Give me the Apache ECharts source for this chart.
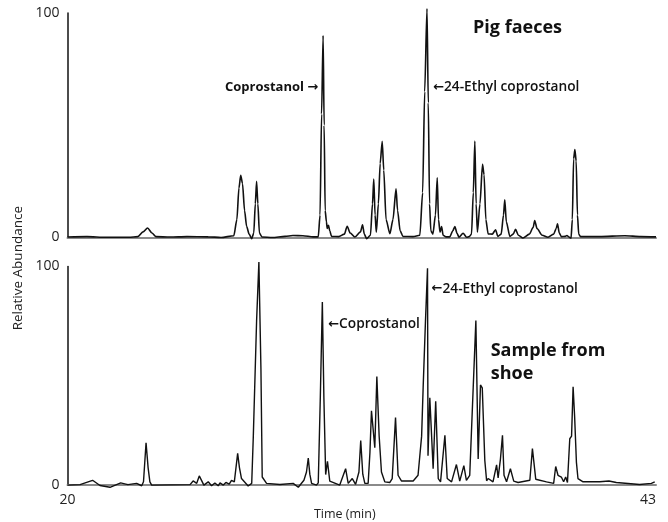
<!DOCTYPE html>
<html>
<head>
<meta charset="utf-8">
<title>Sterol chromatograms</title>
<script src="https://cdn.jsdelivr.net/npm/echarts@6/dist/echarts.min.js"></script>
<style>
  html, body { margin: 0; padding: 0; background: #fff; }
  #chart { width: 668px; height: 522px; }
</style>
</head>
<body>
<div id="chart"></div>
<script>
// time (min), relative abundance
var pig_trace = [
    [20.0, 0.2], [20.76, 0.4], [21.5, 0.1], [22.4, 0.1], [22.75, 0.4], [22.95, 2.5], [23.13, 4.2], [23.3, 2.0],
    [23.45, 0.4], [24.0, 0.2], [24.67, 0.4], [25.5, 0.3], [26.0, 0.0], [26.5, 0.8], [26.62, 8], [26.7, 22],
    [26.77, 27.7], [26.84, 24], [26.92, 12], [27.0, 5], [27.1, 1.5], [27.2, -0.5], [27.28, 2], [27.34, 15],
    [27.39, 25], [27.44, 15], [27.5, 2], [27.6, 0.2], [28.0, 0.0], [28.5, 0.5], [28.81, 0.9], [29.2, 0.8],
    [29.6, 0.3], [29.8, 0.3], [29.87, 10], [29.93, 55], [29.99, 90], [30.03, 50], [30.07, 12], [30.12, 7],
    [30.15, 4], [30.2, 5.4], [30.25, 3], [30.32, 0.5], [30.6, 0.4], [30.82, 1.5], [30.93, 5], [31.05, 2],
    [31.23, 0.2], [31.45, 2.5], [31.53, 5.7], [31.6, 1.5], [31.69, -0.5], [31.84, 1], [31.92, 15], [31.97, 26],
    [32.02, 10], [32.07, 2.4], [32.15, 15], [32.22, 33], [32.3, 42.9], [32.36, 30], [32.45, 8], [32.6, 1.7],
    [32.72, 8], [32.84, 21.7], [32.9, 12], [33.0, 3], [33.11, 0.5], [33.5, 0.4], [33.77, 1], [33.88, 20],
    [33.96, 65], [34.05, 102], [34.1, 60], [34.15, 15], [34.2, 3], [34.28, 1.5], [34.38, 10], [34.45, 26.6],
    [34.5, 8], [34.56, 2.4], [34.62, 4.9], [34.68, 1], [34.8, 0.3], [34.94, 0.3], [35.06, 3], [35.14, 4.9],
    [35.22, 2], [35.3, 0.1], [35.46, 1.9], [35.6, 0.1], [35.7, 0.4], [35.79, 1.5], [35.86, 20], [35.92, 43],
    [35.97, 15], [36.02, 2.4], [36.12, 15], [36.22, 32.6], [36.28, 28], [36.35, 8], [36.44, 1.6], [36.6, 1.5],
    [36.73, 3.4], [36.82, 0.5], [36.95, 1.5], [37.04, 10], [37.09, 16.8], [37.15, 7], [37.29, 0.5], [37.42, 1.5],
    [37.51, 3.6], [37.62, 1], [37.8, -0.2], [38.05, 1.5], [38.2, 4.5], [38.26, 7.6], [38.35, 4], [38.55, 1],
    [38.78, 0.1], [39.0, 1.5], [39.1, 4], [39.15, 6.1], [39.22, 2], [39.3, 0.4], [39.45, 0.5], [39.52, 0.9],
    [39.6, 0.2], [39.68, -0.3], [39.73, 8], [39.78, 35], [39.83, 39.2], [39.88, 34], [39.93, 10], [39.98, 1.5],
    [40.05, 0.4], [40.8, 0.4], [41.78, 0.8], [42.4, 0.4], [43.0, 0.3]
];
var shoe_trace = [
    [20.0, 0], [20.49, 0.2], [20.98, 2.2], [21.27, -0.2], [21.66, -1], [22.08, 1], [22.36, 0.2], [22.7, 0.8],
    [22.9, -0.3], [22.97, 1.5], [23.07, 19.4], [23.15, 8], [23.22, 1.5], [23.29, 0], [24.79, 0.2], [24.91, 1.9],
    [25.05, 0.8], [25.15, 4.2], [25.33, 0], [25.5, 1.5], [25.63, -0.3], [25.76, 1], [25.89, -0.3], [25.96, 1],
    [26.09, 0], [26.19, 1.2], [26.32, 0.4], [26.41, 2.2], [26.52, 1.5], [26.65, 14.5], [26.72, 8], [26.8, 3],
    [27.06, -0.4], [27.2, 0.8], [27.26, 21.6], [27.39, 75], [27.48, 102], [27.56, 53], [27.61, 3.7], [27.78, 0.8],
    [28.3, 0.3], [28.82, 0.8], [29.02, -1], [29.24, 2.2], [29.34, 6], [29.41, 12.4], [29.47, 5], [29.54, 0.8],
    [29.73, 0], [29.8, 1], [29.88, 40], [29.96, 83.8], [30.02, 40], [30.09, 4.8], [30.16, 10.9], [30.25, 1.8],
    [30.64, 0], [30.87, 7.5], [30.97, 0.8], [31.13, 3], [31.26, 0.3], [31.39, 6], [31.46, 20.4], [31.54, 5],
    [31.62, 0.8], [31.75, 0.8], [31.82, 14.9], [31.88, 34], [32.01, 17.1], [32.09, 49.7], [32.18, 22.4], [32.27, 6],
    [32.4, 1.5], [32.6, 1.2], [32.69, 3], [32.77, 20], [32.82, 30.9], [32.92, 4.5], [33.05, 1.9], [33.51, 1.9],
    [33.7, 4.5], [33.84, 22.4], [33.9, 44.7], [33.99, 75], [34.07, 99.2], [34.09, 13.4], [34.16, 40], [34.29, 7.5],
    [34.39, 38.3], [34.49, 3], [34.58, 1.5], [34.75, 22.8], [34.84, 3], [35.01, 1.5], [35.2, 9.4], [35.33, 1.8],
    [35.49, 8.9], [35.59, 2.2], [35.72, 4.5], [35.83, 37], [35.96, 75.3], [36.05, 12], [36.14, 45.8], [36.21, 44.5],
    [36.31, 11.2], [36.38, 2], [36.44, 3], [36.63, 1.5], [36.77, 9.3], [36.83, 3.3], [36.92, 11.9], [37.0, 22.8],
    [37.06, 4.5], [37.16, 1.5], [37.31, 7.5], [37.44, 1.8], [37.61, 1.2], [38.07, 2.2], [38.17, 16.7], [38.3, 2.7],
    [38.72, 1.5], [39.0, 0.8], [39.08, 8.5], [39.17, 4.5], [39.3, 3.7], [39.39, 1.5], [39.47, 3.7], [39.54, 1.2],
    [39.63, 21.2], [39.7, 22.4], [39.76, 45], [39.82, 31.3], [39.89, 10.4], [39.95, 3], [40.15, 1.5], [40.8, 1.5],
    [41.16, 1.9], [41.45, 1.2], [42.36, 0.3], [42.82, 0.8], [42.95, 1.5]
];
var time_range	= [20, 43];
var y_ticks	= [0, 100];

var font = '"Open Sans", "Liberation Sans", sans-serif';

// arrows drawn with DejaVu, its arrow glyph is closer to the printed one
var arrow_rich = {
    a: { fontFamily: '"DejaVu Sans", sans-serif', fontSize: 13, color: '#111', fontWeight: 'bold' }
};

function note(coord, text, align, size, weight) {
    return {
	coord: coord,
	value: text,
	symbol: 'rect',
	symbolSize: 1,
	itemStyle: { color: 'rgba(0,0,0,0)' },
	label: {
	    show: true,
	    position: 'inside',
	    align: align,
	    verticalAlign: 'middle',
	    formatter: text,
	    color: '#111',
	    fontFamily: font,
	    fontSize: size,
	    fontWeight: weight,
	    lineHeight: 23,
	    rich: arrow_rich
	}
    };
}

function x_axis(idx, show_labels) {
    return {
	type: 'value',
	gridIndex: idx,
	min: time_range[0],
	max: time_range[1],
	interval: 1,
	axisLine: { show: true, onZero: false, lineStyle: { color: '#8a8a8a', width: 2 } },
	axisTick: { show: false },
	splitLine: { show: false },
	axisLabel: {
	    show: show_labels,
	    color: '#222',
	    fontFamily: font,
	    fontSize: 14,
	    margin: 8,
	    alignMaxLabel: 'right',
	    formatter: function (v) {
		return (v == time_range[0] || v == time_range[1]) ? String(v) : '';
	    }
	},
	name: show_labels ? 'Time (min)' : '',
	nameLocation: 'middle',
	nameGap: 19,
	nameTextStyle: { color: '#222', fontFamily: font, fontSize: 12.5, padding: [0, 34, 0, 0] }
    };
}

function y_axis(idx) {
    return {
	type: 'value',
	gridIndex: idx,
	min: y_ticks[0],
	max: y_ticks[1],
	interval: 100,
	axisLine: { show: true, lineStyle: { color: '#111', width: 1.5 } },
	axisTick: { show: false },
	splitLine: { show: false },
	axisLabel: { color: '#222', fontFamily: font, fontSize: 14, margin: 8 }
    };
}

var chart = echarts.init(document.getElementById('chart'));
var option = {
    animation: false,
    backgroundColor: '#fff',
    grid: [
	{ left: 67.5, right: 12, top: 13, bottom: 284.5 },
	{ left: 67.5, right: 12, top: 266.5, bottom: 31 }
    ],
    xAxis: [x_axis(0, false), x_axis(1, true)],
    yAxis: [y_axis(0), y_axis(1)],
    graphic: [
	{
	    type: 'text',
	    left: 11,
	    top: 206,
	    rotation: Math.PI / 2,
	    style: { text: 'Relative Abundance', fill: '#222', font: '13.5px ' + font }
	}
    ],
    series: [
	{
	    type: 'line',
	    name: 'Pig faeces',
	    xAxisIndex: 0,
	    yAxisIndex: 0,
	    data: pig_trace,
	    showSymbol: false,
	    clip: false,
	    smooth: 0.25,
	    smoothMonotone: 'x',
	    lineStyle: { color: '#111', width: 1.6 },
	    markPoint: {
		silent: true,
		data: [
		    note([29.8, 66.8], 'Coprostanol {a|\u2192}', 'right', 13, 'bold'),
		    note([34.29, 66.8], '{a|\u2190}24-Ethyl coprostanol', 'left', 13.7, 600),
		    note([35.85, 93.2], 'Pig faeces', 'left', 18, 'bold')
		]
	    }
	},
	{
	    type: 'line',
	    name: 'Sample from shoe',
	    xAxisIndex: 1,
	    yAxisIndex: 1,
	    data: shoe_trace,
	    showSymbol: false,
	    clip: false,
	    lineStyle: { color: '#111', width: 1.4 },
	    markPoint: {
		silent: true,
		data: [
		    note([30.19, 73.5], '{a|\u2190}Coprostanol', 'left', 13.7, 600),
		    note([34.23, 89.8], '{a|\u2190}24-Ethyl coprostanol', 'left', 13.7, 600),
		    note([36.54, 56.2], 'Sample from\nshoe', 'left', 18, 'bold')
		]
	    }
	}
    ]
};
chart.setOption(option);
</script>
</body>
</html>
